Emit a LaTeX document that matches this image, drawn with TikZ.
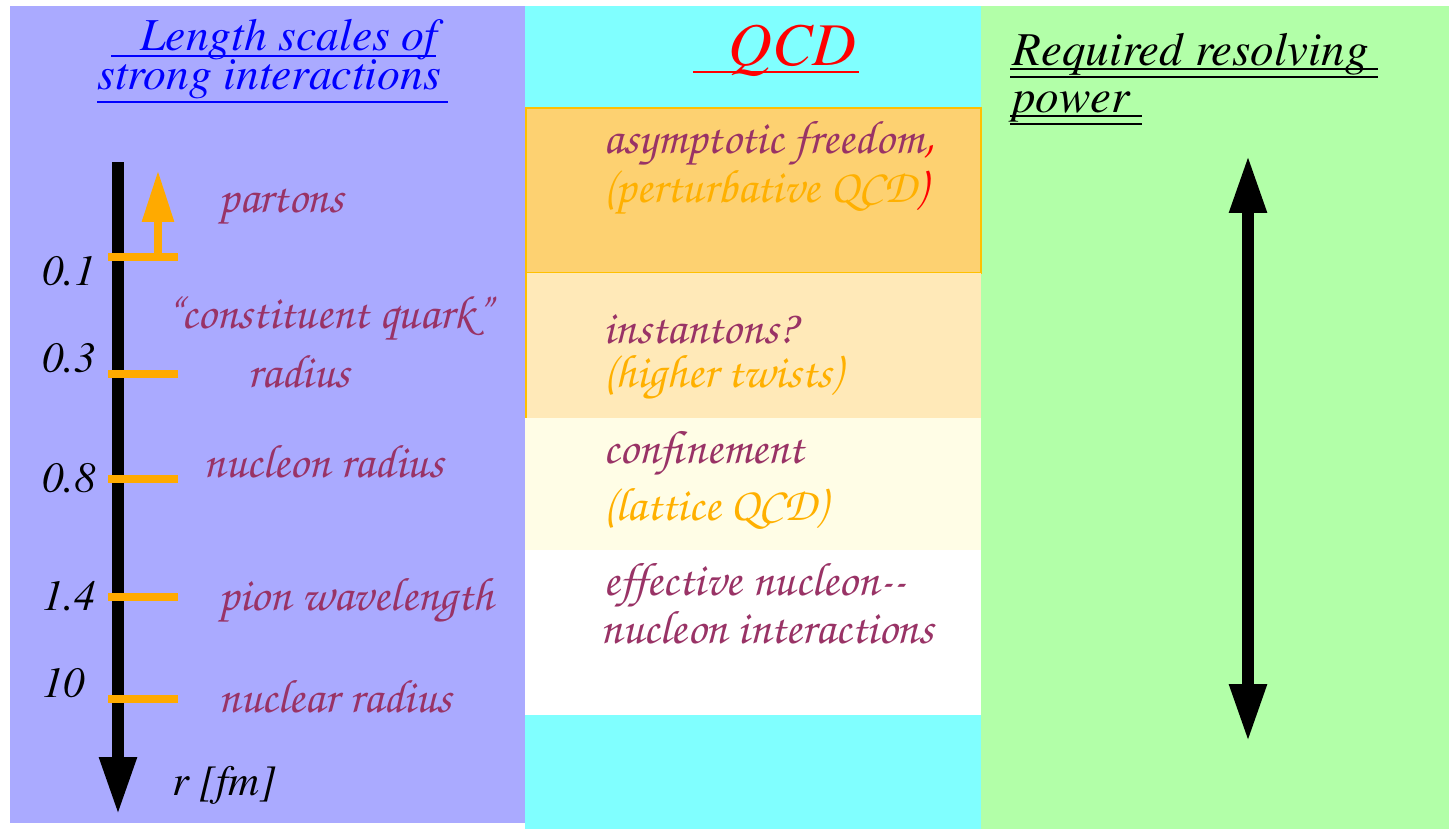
\documentclass[tikz,border=0pt]{standalone}
\usepackage{fontspec}
\setmainfont{Liberation Serif}
\usetikzlibrary{arrows.meta}

\definecolor{panelblue}{HTML}{AAAAFF}
\definecolor{qcdcyan}{HTML}{80FFFF}
\definecolor{resgreen}{HTML}{B2FFA8}
\definecolor{bandorange}{HTML}{FDD171}
\definecolor{bandline}{HTML}{FFC000}
\definecolor{bandlight}{HTML}{FFE9B8}
\definecolor{bandpale}{HTML}{FFFDE6}
\definecolor{labpurple}{HTML}{993366}
\definecolor{laborange}{HTML}{FFB000}
\definecolor{tickorange}{HTML}{FFAA00}

\newcommand{\chan}{\fontencoding{OT1}\fontfamily{pzc}\fontseries{mb}\fontshape{it}\selectfont}
\newcommand{\timit}{\fontencoding{OT1}\fontfamily{ptm}\fontseries{m}\fontshape{it}\selectfont}

\tikzset{
  lab/.style={anchor=base west, text=labpurple, font=\chan\fontsize{26.8}{31}\selectfont},
  alt/.style={lab, text=laborange},
  num/.style={anchor=base west, font=\timit\fontsize{24.5}{28}\selectfont},
  head/.style={anchor=base west, font=\timit\fontsize{26}{30}\selectfont},
  tick/.style={tickorange, line width=5.1pt},
  bigarrow/.style={line width=6.8pt, -{Triangle[length=33pt,width=19.8pt]}},
  dblarrow/.style={line width=6.8pt, {Triangle[length=33pt,width=19.8pt]}-{Triangle[length=33pt,width=19.8pt]}}
}

\begin{document}
\begin{tikzpicture}[x=0.02cm,y=-0.02cm,inner sep=0pt]
\useasboundingbox (0,0) rectangle (1449,829);
\fill[white] (0,0) rectangle (1449,829);

% three panels
\fill[panelblue] (10,6) rectangle (525,823);
\fill[qcdcyan] (525,6) rectangle (981,829);
\fill[resgreen] (981,6) rectangle (1449,829);

% QCD regimes
\filldraw[draw=bandline, fill=bandorange, line width=1.2pt] (526,108) rectangle (981,273);
\fill[bandlight] (526,273) rectangle (981,418);
\draw[bandline, line width=1.2pt] (526,273) -- (526,418);
\fill[bandpale] (525,418) rectangle (981,550);
\fill[white] (525,550) rectangle (981,715);

% headings
\node(h1) at (140,50) [head, text=blue, text depth=0pt] {Length scales of};
\node(h2) at (97,89) [head, text=blue, text height=12pt] {strong interactions};
\draw[blue, line width=1.2pt] (111,56) -- (436,56);
\draw[blue, line width=1.2pt] (97,102) -- (448,102);

\node(q) at (728,65) [head, text=red, font=\timit\fontsize{34.5}{39}\selectfont] {QCD};
\draw[red, line width=1.2pt] (693,72) -- (859,72);

\node(r1) at (1012,65) [head, font=\timit\fontsize{26.8}{31}\selectfont] {Required resolving};
\node(r2) at (1012,112) [head, font=\timit\fontsize{26.8}{31}\selectfont] {power};
\draw[line width=1pt] (1010,69) -- (1378,69) (1010,77) -- (1378,77);
\draw[line width=1pt] (1010,116) -- (1142,116) (1010,124) -- (1142,124);

% length axis
\coordinate(atop) at (118,162);
\coordinate(abot) at (118,815);
\draw[bigarrow] (atop) -- (abot);
\node(rf) at (172,795) [num] {r [fm]};

\foreach \y/\v in {257/0.1, 374/0.3, 479/0.8, 597/1.4, 699/10}
  \draw[tick] (108,\y) -- (178,\y);
\coordinate(pbase) at (158,257);
\coordinate(ptip) at (158,170);
\draw[tickorange, line width=5.1pt, -{Triangle[length=29.5pt,width=17pt]}] (pbase) -- (ptip);

\node(n1) at (42,285) [num] {0.1};
\node(n3) at (42,372) [num] {0.3};
\node(n8) at (42,492) [num] {0.8};
\node(n14) at (42,610) [num] {1.4};
\node(n10) at (42,697) [num] {10};

\node(l1) at (218,212) [lab] {partons};
\node(l2) at (165,328) [lab] {``constituent quark''};
\node(l3) at (247,387) [lab] {radius};
\node(l4) at (203,477) [lab] {nucleon radius};
\node(l5) at (218,610) [lab] {pion wavelength};
\node(l6) at (218,712) [lab] {nuclear radius};

% QCD column
\node(m1) at (603,153) [lab] {asymptotic freedom\textcolor{red}{,}};
\node(m2) at (603,202) [alt] {(perturbative QCD\textcolor{red}{)}};
\node(m3) at (603,343) [lab] {instantons?};
\node(m4) at (603,387) [alt] {(higher twists)};
\node(m5) at (603,463) [lab] {confinement};
\node(m6) at (603,520) [alt] {(lattice QCD)};
\node(m7) at (603,595) [lab] {effective nucleon-{}-};
\node(m8) at (600,643) [lab] {nucleon interactions};

% resolving power
\coordinate(rtop) at (1248,155);
\coordinate(rbot) at (1248,742);
\draw[dblarrow] (rtop) -- (rbot);

\end{tikzpicture}
\end{document}
